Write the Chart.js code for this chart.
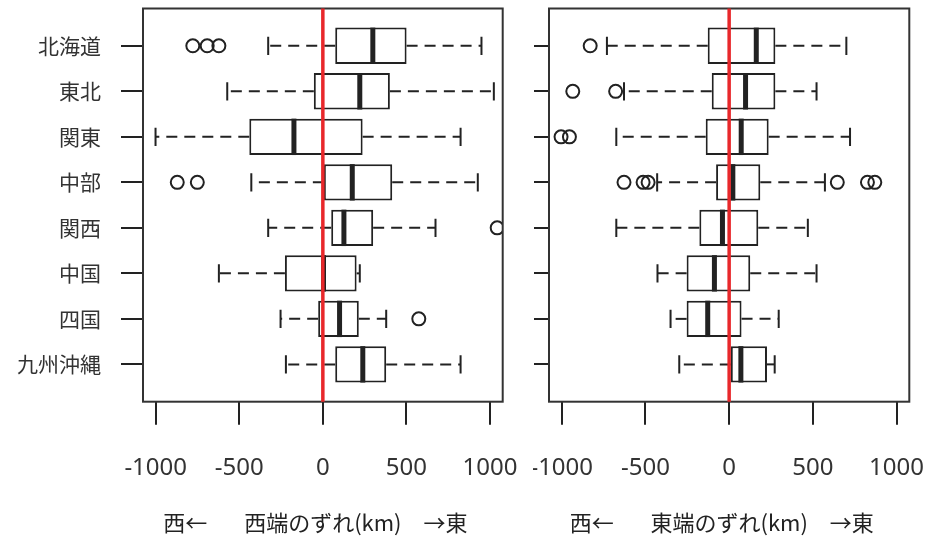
<!DOCTYPE html>
<html><head><meta charset="utf-8">
<script src="https://cdn.jsdelivr.net/npm/chart.js@4.4.1/dist/chart.umd.min.js"></script>
<style>
html,body{margin:0;padding:0;background:#fff;width:925px;height:542px;overflow:hidden}
canvas{position:absolute;top:0}
#c1{left:0}
#c2{left:533px}
</style></head>
<body>
<canvas id="c1" width="525" height="542"></canvas>
<canvas id="c2" width="392" height="542"></canvas>
<script>
const categories = ['北海道','東北','関東','中部','関西','中国','四国','九州沖縄'];
const xTickValues = [-1000, -500, 0, 500, 1000];
const referenceValue = 0;

// 西端のずれ (km)
const westLow    = [-327, -572, -1001, -428, -327, -622, -253, -221];
const westQ1     = [74, -54, -440, 6, 50, -227, -28, 74];
const westMedian = [299, 221, -173, 176, 126, 4, 100, 239];
const westQ3     = [501, 401, 238, 415, 301, 202, 215, 379];
const westHigh   = [949, 1023, 824, 927, 674, 221, 379, 824];
const westOutliers = [[-778, -692, -622], [], [], [-871, -751], [1043], [], [574], []];

// 東端のずれ (km)
const eastLow    = [-730, -628, -674, -430, -674, -428, -350, -298];
const eastQ1     = [-128, -104, -140, -78, -178, -254, -254, 10];
const eastMedian = [162, 98, 72, 22, -40, -88, -128, 70];
const eastQ3     = [276, 276, 236, 186, 174, 126, 74, 226];
const eastHigh   = [700, 522, 722, 572, 470, 522, 296, 272];
const eastOutliers = [[-830], [-934, -678], [-1004, -954], [-628, -514, -484, 646, 826, 870], [], [], [], []];

const westTitle = '西←　   西端のずれ(km)　→東   ';
const eastTitle = '西←　   東端のずれ(km)　→東   ';

const INK = '#222';
const RED = '#e8282b';

function makeChart(id, d) {
  const boxData = categories.map((c, i) => ({ y: i + 1, x: [d.q1[i], d.q3[i]] }));
  const outData = [];
  d.out.forEach((arr, i) => arr.forEach(v => outData.push({ x: v, y: i + 1 })));

  const extras = {
    id: 'boxExtras',
    afterDatasetsDraw(chart) {
      const { ctx, chartArea: a } = chart;
      const xs = chart.scales.x;
      const bars = chart.getDatasetMeta(0).data;
      ctx.save();
      ctx.strokeStyle = INK;
      ctx.lineCap = 'butt';
      bars.forEach((b, i) => {
        const y = b.y, h = b.height;
        const pl = xs.getPixelForValue(d.low[i]);
        const p1 = xs.getPixelForValue(d.q1[i]);
        const pm = xs.getPixelForValue(d.med[i]);
        const p3 = xs.getPixelForValue(d.q3[i]);
        const ph = xs.getPixelForValue(d.high[i]);
        ctx.lineWidth = 2;
        ctx.setLineDash([11, 7]);
        ctx.beginPath(); ctx.moveTo(p1, y); ctx.lineTo(pl, y); ctx.stroke();
        ctx.beginPath(); ctx.moveTo(p3, y); ctx.lineTo(ph, y); ctx.stroke();
        ctx.setLineDash([]);
        ctx.beginPath();
        ctx.moveTo(pl, y - h / 4); ctx.lineTo(pl, y + h / 4);
        ctx.moveTo(ph, y - h / 4); ctx.lineTo(ph, y + h / 4);
        ctx.stroke();
        ctx.lineWidth = 5;
        ctx.beginPath(); ctx.moveTo(pm, y - h / 2); ctx.lineTo(pm, y + h / 2); ctx.stroke();
      });
      ctx.lineWidth = 2;
      ctx.strokeStyle = '#333';
      ctx.strokeRect(a.left, a.top, a.right - a.left, a.bottom - a.top);
      const pr = xs.getPixelForValue(referenceValue);
      ctx.strokeStyle = RED;
      ctx.lineWidth = 3.5;
      ctx.beginPath(); ctx.moveTo(pr, a.top); ctx.lineTo(pr, a.bottom); ctx.stroke();
      ctx.restore();
    }
  };

  return new Chart(document.getElementById(id), {
    type: 'bar',
    data: {
      datasets: [
        { type: 'bar', data: boxData, backgroundColor: '#fff', borderColor: INK, borderWidth: 2,
          borderSkipped: false, barPercentage: 0.8, categoryPercentage: 1, order: 2 },
        { type: 'scatter', data: outData, pointStyle: 'circle', pointRadius: 6.5, pointBorderWidth: 2,
          pointBorderColor: INK, pointBackgroundColor: 'rgba(0,0,0,0)', order: 1 }
      ]
    },
    options: {
      indexAxis: 'y',
      responsive: false,
      animation: false,
      events: [],
      layout: { padding: d.padding },
      plugins: { legend: { display: false }, tooltip: { enabled: false } },
      scales: {
        x: {
          type: 'linear', min: -1076, max: 1076, offset: false,
          afterBuildTicks: s => { s.ticks = xTickValues.map(v => ({ value: v })); },
          afterFit: s => { s.height = d.xh; s.paddingLeft = 0; s.paddingRight = 0; },
          grid: { offset: false, drawOnChartArea: false, drawTicks: true, tickLength: 23, color: INK, lineWidth: 2 },
          border: { display: false },
          ticks: { padding: 29, color: '#333', font: { family: 'Noto Sans', size: 24 }, callback: v => String(v) },
          title: { display: true, text: d.title, color: '#222',
                   font: { family: 'Noto Sans CJK JP', size: 22 }, padding: { top: 0, bottom: 6 } }
        },
        y: {
          type: 'linear', reverse: true, min: 0.18, max: 8.82, offset: false,
          afterBuildTicks: s => { s.ticks = categories.map((c, i) => ({ value: i + 1 })); },
          afterFit: s => { s.width = d.yw; s.paddingTop = 0; s.paddingBottom = 0; },
          grid: { offset: false, drawOnChartArea: false, drawTicks: true, tickLength: d.tl, color: INK, lineWidth: 2 },
          border: { display: false },
          ticks: { display: d.showLabels, padding: 20, color: '#333',
                   font: { family: 'Noto Sans CJK JP', size: 21 },
                   callback: v => categories[Math.round(v) - 1] }
        }
      }
    },
    plugins: [extras]
  });
}

makeChart('c1', {
  low: westLow, q1: westQ1, med: westMedian, q3: westQ3, high: westHigh, out: westOutliers,
  title: westTitle, padding: { left: 0, right: 22.3, top: 5.5, bottom: 0 },
  xh: 140.3, yw: 143, tl: 22, showLabels: true
});
makeChart('c2', {
  low: eastLow, q1: eastQ1, med: eastMedian, q3: eastQ3, high: eastHigh, out: eastOutliers,
  title: eastTitle, padding: { left: 0, right: 15.7, top: 5.5, bottom: 0 },
  xh: 140.3, yw: 16, tl: 15, showLabels: false
});
</script>
</body></html>
